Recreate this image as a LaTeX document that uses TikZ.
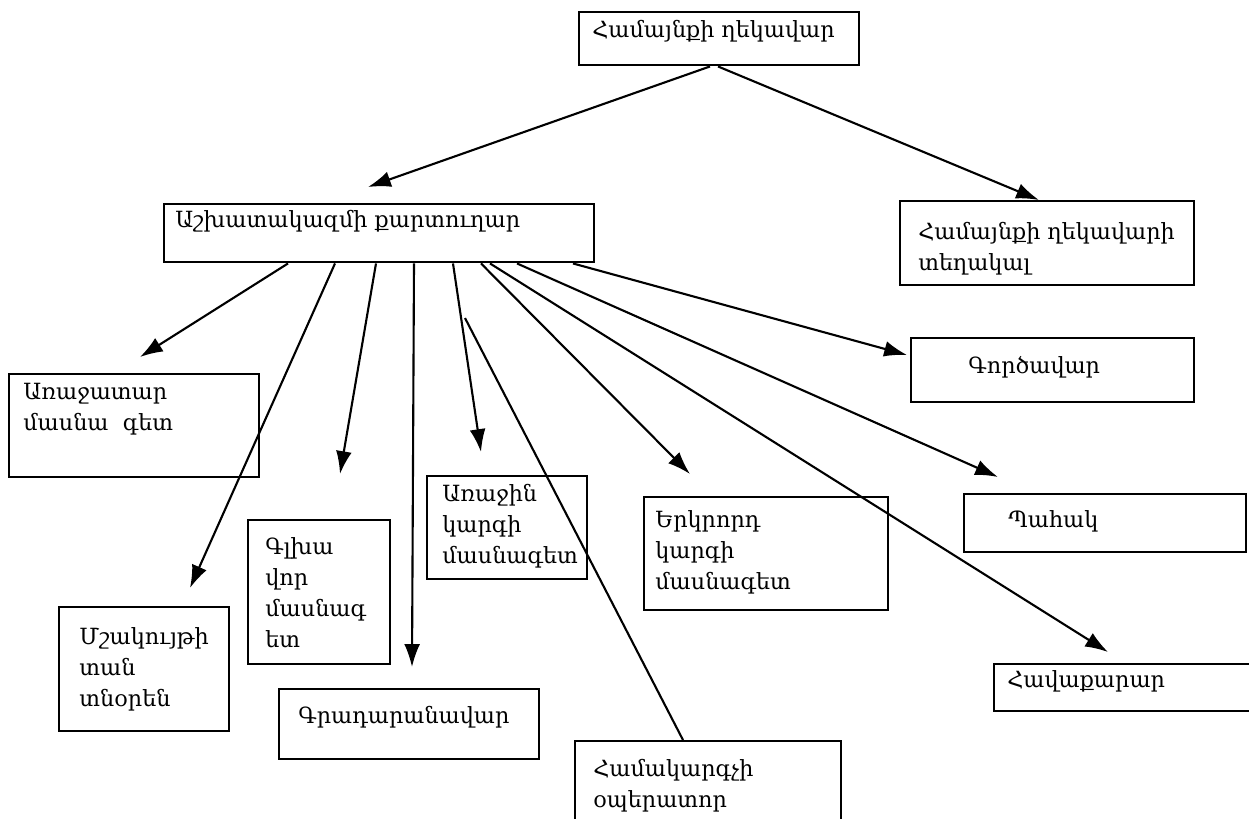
\documentclass[tikz,border=0pt]{standalone}
\usepackage{fontspec}
\newfontfamily\armfont{DejaVu Serif}
\usetikzlibrary{calc,arrows.meta}

\tikzset{
  box/.style={draw, line width=1.4pt, anchor=north west, inner sep=0pt},
  % base west of a multi-line text is the baseline of its last line
  txt/.style={anchor=base west, align=left, inner sep=0pt,
    font=\armfont\fontsize{12.7}{17.6}\selectfont},
  arr/.style={-{Latex[length=13pt,width=9pt]}, line width=1.2pt}
}

\begin{document}
\begin{tikzpicture}[x=0.02cm, y=-0.02cm]
\clip (0,0) rectangle (1249,819);

% Boxes
\node[box, minimum width=5.6cm, minimum height=1.06cm] (head) at (578,11) {};
\node[box, minimum width=8.6cm, minimum height=1.16cm] (secr) at (163,203) {};
\node[box, minimum width=5.88cm, minimum height=1.68cm] (depu) at (899,200) {};
\node[box, minimum width=5cm, minimum height=2.06cm] (lead) at (8,373) {};
\node[box, minimum width=5.66cm, minimum height=1.28cm] (gorts) at (910,337) {};
\node[box, minimum width=5.64cm, minimum height=1.16cm] (pahak) at (963,493) {};
\node[box, minimum width=3.4cm, minimum height=2.48cm] (mshak) at (58,606) {};
\node[box, minimum width=2.84cm, minimum height=2.88cm] (glkh) at (247,519) {};
\node[box, minimum width=3.2cm, minimum height=2.06cm] (first) at (426,475) {};
\node[box, minimum width=4.88cm, minimum height=2.26cm] (second) at (643,496) {};
\node[box, minimum width=5.2cm, minimum height=1.4cm] (grad) at (278,688) {};
\node[box, minimum width=5.32cm, minimum height=2cm] (oper) at (574,740) {};
\node[box, minimum width=6cm, minimum height=0.94cm] (havaq) at (993,663) {};

% Texts
\node[txt] (head-t) at (592,37) {Համայնքի ղեկավար};
\node[txt] (secr-t) at (175,227) {Աշխատակազմի քարտուղար};
\node[txt] (depu-t) at (918,270) {Համայնքի ղեկավարի\\տեղակալ};
\node[txt] (lead-t) at (23,430) {Առաջատար\\մասնա\ \ գետ};
\node[txt] (gorts-t) at (968,373) {Գործավար};
\node[txt] (pahak-t) at (1008,527) {Պահակ};
\node[txt] (mshak-t) at (79,706) {Մշակույթի\\տան\\տնօրեն};
\node[txt] (glkh-t) at (265,647) {Գլխա\\վոր\\մասնագ\\ետ};
\node[txt] (first-t) at (442,563) {Առաջին\\կարգի\\մասնագետ};
\node[txt] (second-t) at (655,589) {Երկրորդ\\կարգի\\մասնագետ};
\node[txt] (grad-t) at (298,723) {Գրադարանավար};
\node[txt] (oper-t) at (593,807) {Համակարգչի\\օպերատոր};
\node[txt] (havaq-t) at (1007,687) {Հավաքարար};

\coordinate (loose) at (465,318);

% Arrows
\draw[arr] ($(head.south west)+(132,0)$) -- ($(secr.north west)+(205,-16)$);
\draw[arr] ($(head.south west)+(140,0)$) -- ($(depu.north west)+(140,0)$);
\draw[arr] ($(secr.south west)+(125,0)$) -- ($(lead.north west)+(132,-16)$);
\draw[arr] ($(secr.south west)+(172,0)$) -- ($(mshak.north west)+(132,-18)$);
\draw[arr] ($(secr.south west)+(213,0)$) -- ($(glkh.north west)+(93,-45)$);
\draw[arr] ($(secr.south west)+(251,0)$) -- ($(grad.north west)+(134,-21)$);
\draw[arr] ($(secr.south west)+(290,0)$) -- ($(first.north west)+(55,-23)$);
\draw[line width=1.2pt] (loose) -- ($(oper.north west)+(109,0)$);
\draw[arr] ($(secr.south west)+(318,0)$) -- ($(second.north west)+(47,-22)$);
\draw[arr] ($(secr.south west)+(327,0)$) -- ($(havaq.north west)+(115,-11)$);
\draw[arr] ($(secr.south west)+(354,0)$) -- ($(pahak.north west)+(35,-16)$);
\draw[arr] ($(secr.south west)+(410,0)$) -- ($(gorts.north west)+(-3,18)$);

\end{tikzpicture}
\end{document}
